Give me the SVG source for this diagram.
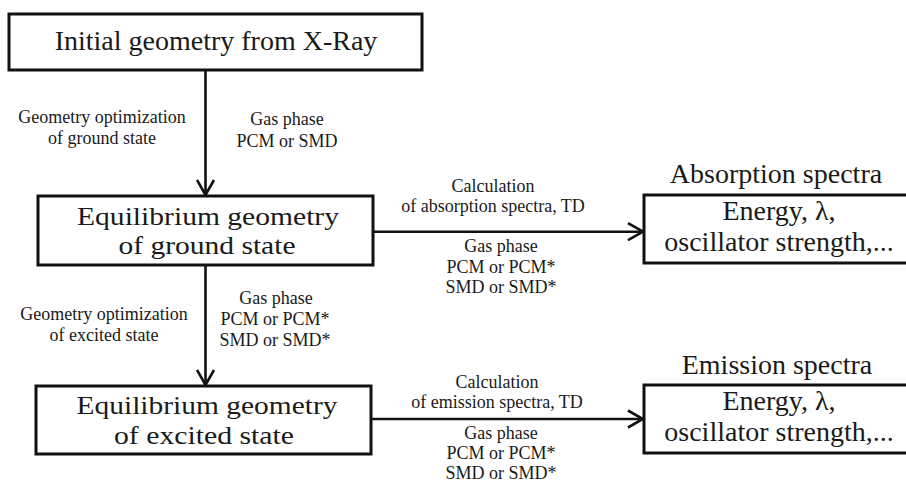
<svg xmlns="http://www.w3.org/2000/svg" width="906" height="483" viewBox="0 0 906 483">
<style>
  .box { fill: #fff; stroke: #111; stroke-width: 3; }
  .big { font-family: "Liberation Serif", "Times New Roman", serif; font-size: 28px; fill: #1a1a1a; text-anchor: middle; }
  .mid { font-family: "Liberation Serif", "Times New Roman", serif; font-size: 26px; fill: #1a1a1a; text-anchor: middle; }
  .sm { font-family: "Liberation Serif", "Times New Roman", serif; font-size: 18px; fill: #1a1a1a; text-anchor: middle; }
  .conn { stroke: #111; stroke-width: 2.6; fill: none; marker-end: url(#arrow); }
</style>
<defs>
  <marker id="arrow" markerUnits="userSpaceOnUse" viewBox="0 0 18 20" refX="16.5" refY="10" markerWidth="18" markerHeight="20" orient="auto">
    <path d="M1.5,1.5 L16.5,10 L1.5,18.5" fill="none" stroke="#111" stroke-width="2.6" stroke-linejoin="miter"/>
  </marker>
</defs>
<rect width="906" height="483" fill="#fff"/>

<g id="connectors">
  <line class="conn" x1="205.5" y1="70" x2="205.5" y2="195"/>
  <line class="conn" x1="205.5" y1="265" x2="205.5" y2="385"/>
  <line class="conn" x1="373" y1="231.7" x2="643" y2="231.7"/>
  <line class="conn" x1="371" y1="419" x2="643" y2="419"/>
  <g id="conn-labels">
    <text class="sm" x="102" y="123">Geometry optimization</text>
    <text class="sm" x="102" y="144">of ground state</text>
    <text class="sm" x="287" y="125">Gas phase</text>
    <text class="sm" x="287" y="147">PCM or SMD</text>

    <text class="sm" x="104" y="320">Geometry optimization</text>
    <text class="sm" x="104" y="341">of excited state</text>
    <text class="sm" x="276" y="304">Gas phase</text>
    <text class="sm" x="275" y="325">PCM or PCM*</text>
    <text class="sm" x="275" y="346">SMD or SMD*</text>

    <text class="sm" x="493" y="192">Calculation</text>
    <text class="sm" x="493" y="212">of absorption spectra, TD</text>
    <text class="sm" x="501" y="252">Gas phase</text>
    <text class="sm" x="501" y="273">PCM or PCM*</text>
    <text class="sm" x="501" y="293">SMD or SMD*</text>

    <text class="sm" x="497" y="388">Calculation</text>
    <text class="sm" x="497" y="408">of emission spectra, TD</text>
    <text class="sm" x="501" y="439">Gas phase</text>
    <text class="sm" x="501" y="459">PCM or PCM*</text>
    <text class="sm" x="501" y="479">SMD or SMD*</text>
  </g>
</g>

<g id="initial">
  <rect class="box" x="9" y="14" width="413" height="56"/>
  <text class="big" x="216" y="50">Initial geometry from X-Ray</text>
</g>

<g id="ground">
  <rect class="box" x="38" y="196" width="335" height="69"/>
  <text class="mid" x="208" y="225" textLength="262" lengthAdjust="spacingAndGlyphs">Equilibrium geometry</text>
  <text class="mid" x="207" y="254" textLength="177" lengthAdjust="spacingAndGlyphs">of ground state</text>
</g>

<g id="excited">
  <rect class="box" x="36" y="386" width="335" height="68"/>
  <text class="mid" x="207" y="414" textLength="261" lengthAdjust="spacingAndGlyphs">Equilibrium geometry</text>
  <text class="mid" x="204" y="444" textLength="180" lengthAdjust="spacingAndGlyphs">of excited state</text>
</g>

<g id="absorption">
  <text class="big" x="776" y="183">Absorption spectra</text>
  <rect class="box" x="644" y="195" width="270" height="68"/>
  <text class="big" x="779" y="220">Energy, λ,</text>
  <text class="big" x="779" y="251">oscillator strength,...</text>
</g>

<g id="emission">
  <text class="big" x="777" y="374">Emission spectra</text>
  <rect class="box" x="644" y="385" width="270" height="68"/>
  <text class="big" x="779" y="410">Energy, λ,</text>
  <text class="big" x="779" y="441">oscillator strength,...</text>
</g>
</svg>
